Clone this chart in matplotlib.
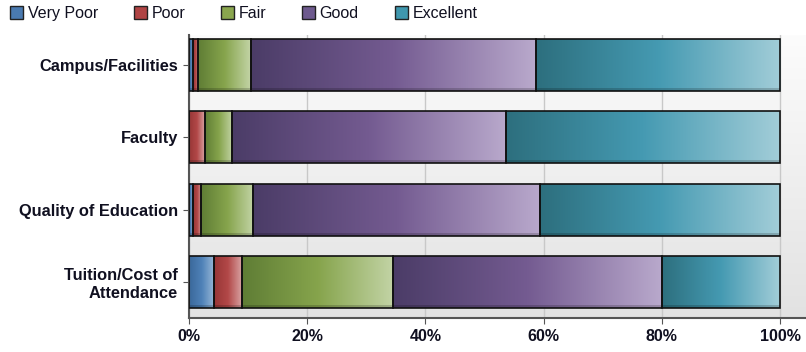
import numpy as np
import matplotlib
matplotlib.use("Agg")
from matplotlib import pyplot as plt  # noqa
from matplotlib.colors import LinearSegmentedColormap
from matplotlib.patches import Patch

plt.rcParams['font.family'] = ['Liberation Sans', 'DejaVu Sans']

categories = ['Campus/Facilities', 'Faculty', 'Quality of Education', 'Tuition/Cost of\nAttendance']
ratings = ['Very Poor', 'Poor', 'Fair', 'Good', 'Excellent']
very_poor = [0.7, 0.0, 0.6, 4.3]
poor = [0.9, 2.7, 1.4, 4.7]
fair = [8.9, 4.6, 8.8, 25.6]
good = [48.2, 46.4, 48.6, 45.5]
excellent = [41.3, 46.3, 40.6, 19.9]
series = [very_poor, poor, fair, good, excellent]

# dark / mid / light stops for each rating's horizontal gradient
stops = [
    ('#3a679a', '#4f82b8', '#9bbad8'),
    ('#973636', '#b24848', '#d8a2a2'),
    ('#5f7d35', '#86a44c', '#c3d4a6'),
    ('#4b3c67', '#745b91', '#b9a9cc'),
    ('#2d6f7e', '#459ab2', '#a2cdd8'),
]
legend_colors = ['#4a7ab0', '#b04444', '#8aa64e', '#6e5a8e', '#3f97ae']
text_color = '#101020'

fig = plt.figure(figsize=(8.06, 3.52), dpi=100)
ax = fig.add_axes([189 / 806, 1 - 318 / 352, 1 - 189 / 806, (318 - 35) / 352])

# plot background: vertical gradient
bg = LinearSegmentedColormap.from_list('bg', ['#e2e2e2', '#fcfcfc'])
ax.imshow(np.linspace(0, 1, 256).reshape(-1, 1)[::-1], cmap=bg, aspect='auto',
          extent=(0, 1, 0, 1), transform=ax.transAxes, zorder=0)

y = np.arange(len(categories))[::-1]
left = np.zeros(len(categories))
grad = np.linspace(0, 1, 256).reshape(1, -1)
for vals, (c0, c1, c2) in zip(series, stops):
    cmap = LinearSegmentedColormap.from_list('g', [(0, c0), (0.5, c1), (1, c2)])
    bars = ax.barh(y, vals, left=left, height=0.72, facecolor='none',
                   edgecolor='#111111', linewidth=1.2, zorder=3)
    for b, v in zip(bars, vals):
        if v <= 0:
            continue
        x0, y0 = b.get_x(), b.get_y()
        im = ax.imshow(grad, cmap=cmap, aspect='auto', zorder=2,
                       extent=(x0, x0 + b.get_width(), y0, y0 + b.get_height()))
        im.set_clip_path(b)
        # soft shadow along the bottom inside edge
        ax.fill_between([x0, x0 + b.get_width()], y0, y0 + 0.04, color='black',
                        alpha=0.18, linewidth=0, zorder=2.5)
    left = left + np.array(vals)

ax.set_xlim(0, 104.4)
ax.set_ylim(-0.5, 3.415)
ax.set_xticks(range(0, 101, 20))
ax.set_xticklabels([f'{t}%' for t in range(0, 101, 20)], fontsize=11.5, fontweight='bold',
                   color=text_color)
ax.set_yticks(y)
ax.set_yticklabels(categories, fontsize=11.8, fontweight='bold', color=text_color)
ax.tick_params(axis='x', length=4, color='#555555', pad=4)
ax.tick_params(axis='y', length=4, color='#555555', pad=4)
ax.grid(axis='x', color='#c8c8c8', linewidth=1, zorder=1)
ax.set_axisbelow(True)
for s in ['top', 'right']:
    ax.spines[s].set_visible(False)
for s in ['left', 'bottom']:
    ax.spines[s].set_color('#555555')
    ax.spines[s].set_linewidth(1.5)

handles = [Patch(facecolor=c, edgecolor='#222222', linewidth=1) for c in legend_colors]
fig.legend(handles, ratings, loc='upper left', bbox_to_anchor=(10 / 806, 1 - 6 / 352),
           ncol=5, frameon=False, fontsize=11.5, handlelength=0.8, handleheight=0.8,
           handletextpad=0.3, columnspacing=2.25, borderpad=0, borderaxespad=0,
           labelcolor=text_color)

fig.savefig('out.png', dpi=100)
